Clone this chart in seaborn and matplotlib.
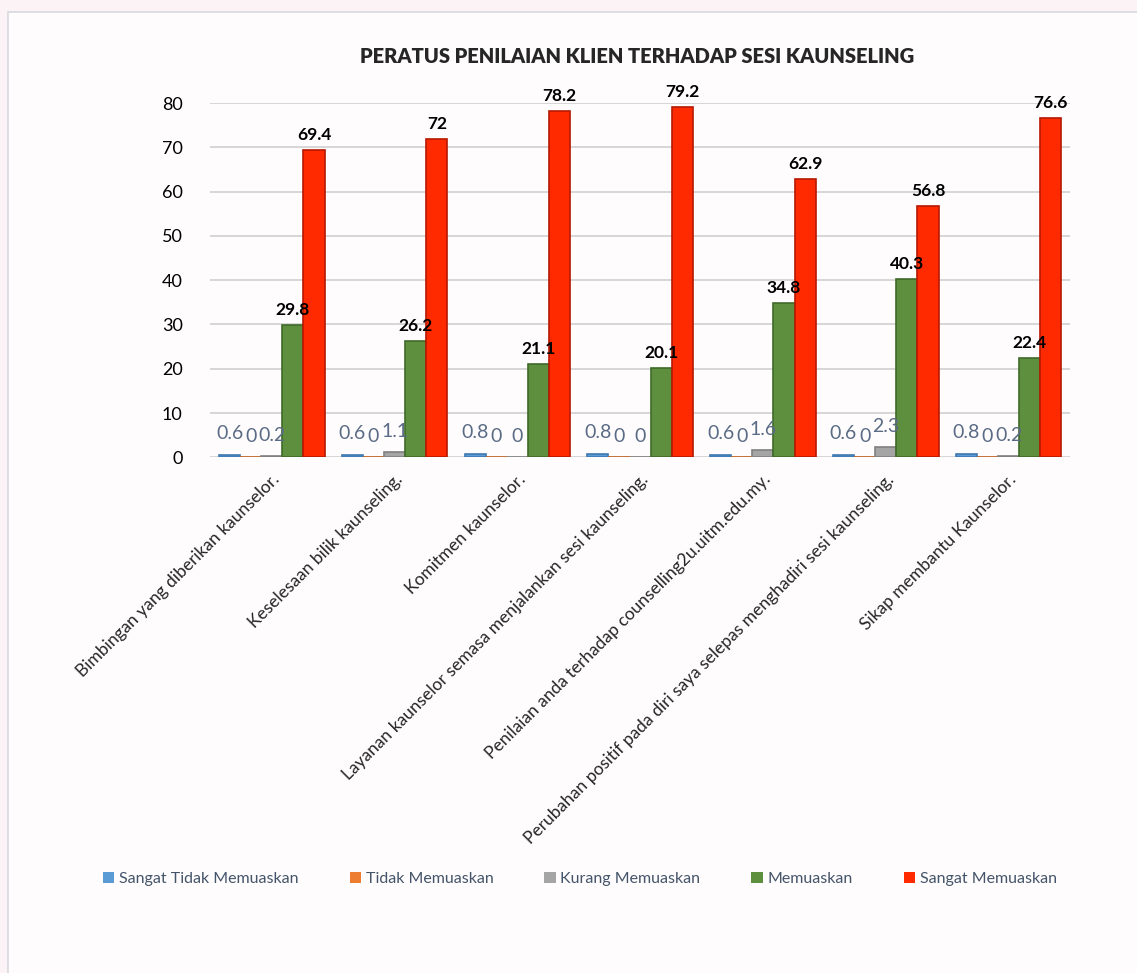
import pandas as pd
import seaborn as sns
import matplotlib.pyplot as plt
from matplotlib.patches import Rectangle

# --- data ---
aspek = [
    'Bimbingan yang diberikan kaunselor.',
    'Keselesaan bilik kaunseling.',
    'Komitmen kaunselor.',
    'Layanan kaunselor semasa menjalankan sesi kaunseling.',
    'Penilaian anda terhadap counselling2u.uitm.edu.my.',
    'Perubahan positif pada diri saya selepas menghadiri sesi kaunseling.',
    'Sikap membantu Kaunselor.',
]
tahap = ['Sangat Tidak Memuaskan', 'Tidak Memuaskan', 'Kurang Memuaskan',
         'Memuaskan', 'Sangat Memuaskan']
sangat_tidak = [0.6, 0.6, 0.8, 0.8, 0.6, 0.6, 0.8]
tidak = [0, 0, 0, 0, 0, 0, 0]
kurang = [0.2, 1.1, 0, 0, 1.6, 2.3, 0.2]
memuaskan = [29.8, 26.2, 21.1, 20.1, 34.8, 40.3, 22.4]
sangat = [69.4, 72, 78.2, 79.2, 62.9, 56.8, 76.6]

warna = ['#5B9BD5', '#ED7D31', '#A5A5A5', '#5E8F3E', '#FF2A00']
tepi = ['#3f7ab0', '#c05f1c', '#808080', '#3f6a28', '#b81800']

rows = []
for t, vals in zip(tahap, [sangat_tidak, tidak, kurang, memuaskan, sangat]):
    for a, v in zip(aspek, vals):
        rows.append({'aspek': a, 'tahap': t, 'peratus': v})
df = pd.DataFrame(rows)

sns.set_theme(style='white')
plt.rcParams['font.family'] = ['Lato', 'DejaVu Sans']

fig = plt.figure(figsize=(11.37, 9.73), dpi=100)
fig.patch.set_facecolor('#fbf3f6')
fig.patches.append(Rectangle((0.007, -0.01), 1.0, 0.998, transform=fig.transFigure,
                             facecolor='#fefcfc', edgecolor='#d8d8e0', lw=1.2, zorder=-5))

ax = fig.add_axes([0.185, 0.530, 0.756, 0.364])
ax.set_facecolor('none')

sns.barplot(data=df, x='aspek', y='peratus', hue='tahap', hue_order=tahap,
            palette=warna, width=0.86, ax=ax, legend=True, saturation=1,
            linewidth=0)

for i, cont in enumerate(ax.containers):
    for b in cont:
        b.set_edgecolor(tepi[i])
        b.set_linewidth(1.2)
    labels = [f"{v:g}" for v in cont.datavalues]
    if i >= 3:
        ax.bar_label(cont, labels=labels, padding=5, fontsize=12.5,
                     fontweight='bold', color='black')
    else:
        ax.bar_label(cont, labels=labels, padding=9, fontsize=14,
                     color='#5a6b85')

ax.set_ylim(0, 80)
ax.set_yticks(range(0, 81, 10))
ax.yaxis.grid(True, color='#d0d0d0', lw=1.2)
ax.set_axisbelow(True)
for s in ax.spines.values():
    s.set_visible(False)
ax.tick_params(axis='y', labelsize=13, pad=14, colors='black')
ax.tick_params(axis='x', labelsize=12.5, pad=4)
plt.setp(ax.get_xticklabels(), rotation=45, ha='right', rotation_mode='anchor')
ax.set_xlabel('')
ax.set_ylabel('')

fig.text(0.56, 0.942, 'PERATUS PENILAIAN KLIEN TERHADAP SESI KAUNSELING',
         ha='center', va='center', fontsize=14.5, fontweight='heavy')

handles, labs = ax.get_legend_handles_labels()
ax.legend_.remove()
fig.legend(handles, labs, loc='center', bbox_to_anchor=(0.51, 0.097), ncol=5,
           frameon=False, fontsize=11.5, handlelength=0.7, handleheight=0.7,
           handletextpad=0.3, columnspacing=3.2, labelcolor='#44546A')

fig.savefig('out.png', dpi=100, facecolor=fig.get_facecolor())
